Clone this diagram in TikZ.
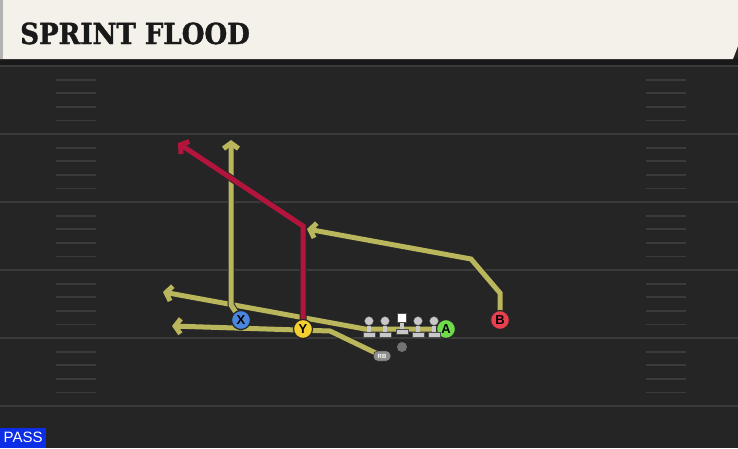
\documentclass[tikz,border=0pt]{standalone}
\usepackage{fontspec}
\setmainfont{DejaVu Serif}
\setsansfont{Liberation Sans}
\newfontfamily\titlefont[FakeBold=1.2]{DejaVu Serif Condensed}
\usetikzlibrary{arrows.meta,positioning}
\definecolor{field}{HTML}{252525}
\definecolor{yardline}{HTML}{3B3B3B}
\definecolor{header}{HTML}{F4F1EA}
\definecolor{route}{HTML}{BAB65C}
\definecolor{redroute}{HTML}{B3143C}
\definecolor{xblue}{HTML}{4A86E0}
\definecolor{yyellow}{HTML}{F5CF2E}
\definecolor{agreen}{HTML}{6EDB4A}
\definecolor{bred}{HTML}{E8404F}
\definecolor{olgray}{HTML}{C8C8C8}
\definecolor{passblue}{HTML}{0B2EE6}
\pgfdeclarelayer{bg}
\pgfdeclarelayer{mid}
\pgfsetlayers{bg,mid,main}
\def\Play{SPRINT FLOOD}

\begin{document}
\begin{tikzpicture}[x=1pt,y=-1pt,% pixel grid, y grows downward
					player/.style={
						circle,draw=black!85,line width=1.2pt,
						minimum size=19pt,inner sep=0pt,
						font=\sffamily\bfseries\fontsize{13}{13}\selectfont
						},
					olhead/.style={circle,fill=olgray,draw=black!70,minimum size=9pt,inner sep=0pt},
					olbar/.style={rectangle,fill=olgray,draw=black!70,minimum width=12pt,minimum height=5pt,inner sep=0pt},
					routeline/.style={draw=route,line width=5pt,
						preaction={draw=black!85,line width=7pt},
						-{Straight Barb[length=5.5pt,width=15pt]}},
					redline/.style={routeline,draw=redroute}
					]
\begin{pgfonlayer}{bg}
\useasboundingbox (0,0) rectangle (738,448);
\fill[field] (0,0) rectangle (738,448);
% yard lines and hash marks
\foreach \yy in {66,134,202,270,338,406}
	\draw[yardline,line width=2pt] (0,\yy) -- (738,\yy);
\foreach \yy in {66,134,202,270,338}
	\foreach \k in {1,...,4}{
		\draw[yardline,line width=1.8pt] (56,\yy+13.6*\k) -- (96,\yy+13.6*\k);
		\draw[yardline,line width=1.8pt] (646,\yy+13.6*\k) -- (686,\yy+13.6*\k);
	}
% header
\fill[black!90] (0,58) rectangle (738,65);
\fill[header] (0,0) -- (738,0) -- (738,46) -- (733,59) -- (0,59) -- cycle;
\fill[black!30] (0,0) rectangle (3,59);
\end{pgfonlayer}
\node[anchor=base west,inner sep=0pt,font=\titlefont\bfseries\fontsize{29}{29}\selectfont,text=black!90] (title) at (20,44) {\Play};
% players
\node[player,fill=xblue] (X) at (241,320) {X};
\node[player,fill=yyellow] (Y) at (303,329) {Y};
\node[player,fill=agreen] (A) at (446,329) {A};
\node[player,fill=bred] (B) at (500,320) {B};
\node[rectangle,rounded corners=4pt,fill=black!45,draw=black!85,minimum width=17pt,minimum height=10pt,inner sep=0pt,
	font=\sffamily\bfseries\fontsize{6}{6}\selectfont,text=white] (RB) at (382,356) {RB};
\node[circle,fill=black!55,minimum size=10pt,inner sep=0pt] (QB) at (402,347) {};
% break points
\coordinate (Xcut) at (231,305);
\coordinate (Xend) at (231,140);
\coordinate (Ycut) at (303,226);
\coordinate (Yend) at (178,143);
\coordinate (Bup) at (500,293);
\coordinate (Bcut) at (471,259);
\coordinate (Bend) at (307,229);
\coordinate (Acut) at (365,329);
\coordinate (Aend) at (163,292);
\coordinate (RBcut) at (330,331);
\coordinate (RBend) at (172,326);
% line
\foreach \i/\xx in {1/369,2/385,4/418,5/434}
	\node[olhead] (ol\i) at (\xx,321) {};
\node[rectangle,fill=white,draw=black!70,minimum size=9pt,inner sep=0pt] (ol3) at (402,318) {};
\foreach \i in {1,...,5}{
	\node[olbar,below=6pt of ol\i] (bar\i) {};
	\draw[olgray,line width=4pt] (ol\i) -- (bar\i);
}
% routes
\begin{pgfonlayer}{mid}
\draw[routeline] (A.center) -- (Acut) -- (Aend);
\draw[routeline] (RB.center) -- (RBcut) -- (RBend);
\draw[routeline] (X.center) -- (Xcut) -- (Xend);
\draw[routeline] (B.center) -- (Bup) -- (Bcut) -- (Bend);
\draw[redline] (Y.center) -- (Ycut) -- (Yend);
\end{pgfonlayer}
% play type
\node[anchor=south west,fill=passblue,text=white,inner sep=2pt,minimum width=46pt,minimum height=20pt,
	font=\sffamily\fontsize{15}{15}\selectfont] (pass) at (0,448) {PASS};
\end{tikzpicture}
\end{document}
